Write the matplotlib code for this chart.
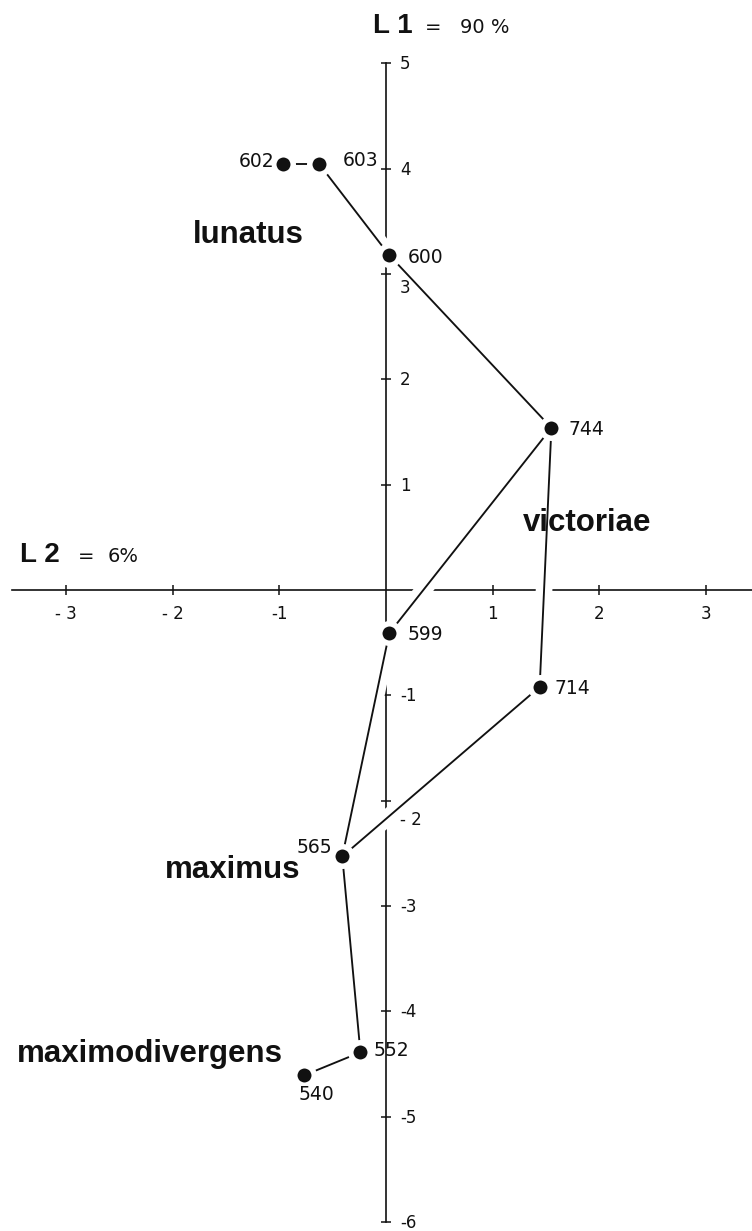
import matplotlib
matplotlib.use("Agg")
import matplotlib.pyplot as plt

# ---- data ----
specimens = ["602", "603", "600", "744", "599", "714", "565", "552", "540"]
l2_scores = [-0.97, -0.63, 0.03, 1.55, 0.03, 1.44, -0.41, -0.24, -0.77]
l1_scores = [4.05, 4.05, 3.18, 1.54, -0.41, -0.92, -2.53, -4.39, -4.61]
links = [("602", "603"), ("603", "600"), ("600", "744"), ("744", "599"),
         ("744", "714"), ("714", "565"), ("599", "565"), ("565", "552"),
         ("552", "540")]
groups = ["lunatus", "victoriae", "maximus", "maximodivergens"]
x_ticks = [-3, -2, -1, 1, 2, 3]
x_tick_labels = ["- 3", "- 2", "-1", "1", "2", "3"]
y_ticks = [5, 4, 3, 2, 1, -1, -2, -3, -4, -5, -6]
y_tick_labels = ["5", "4", "3", "2", "1", "-1", "- 2", "-3", "-4", "-5", "-6"]

# ---- styling / layout ----
PX = 0.72  # points per pixel at dpi 100
INK = "#111111"
NUM_FONT = "DejaVu Sans"
BOLD_FONT = "Liberation Sans"

# label offsets for specimen numbers (pixels: dx, dy up, ha)
num_offsets = {
    "602": (-8, 2, "right"), "603": (24, 3, "left"), "600": (19, -2, "left"),
    "744": (17, -2, "left"), "599": (18, -1, "left"), "714": (15, -2, "left"),
    "565": (-10, 9, "right"), "552": (13, 2, "left"), "540": (13, -19, "center"),
}
# group label placement (data coords of left baseline)
group_pos = {
    "lunatus": (-1.81, 3.30), "victoriae": (1.28, 0.56),
    "maximus": (-2.07, -2.735), "maximodivergens": (-3.46, -4.48),
}
y_label_dy = {3: -14, -2: -19}

fig = plt.figure(figsize=(7.52, 12.31), dpi=100)
fig.patch.set_facecolor("white")
ax = fig.add_axes([0, 0, 1, 1])
ax.set_facecolor("white")
ax.set_xlim(-3.618, 3.430)
ax.set_ylim(-6.087, 5.603)

for s in ["top", "right"]:
    ax.spines[s].set_visible(False)
ax.spines["left"].set_position(("data", 0))
ax.spines["bottom"].set_position(("data", 0))
ax.spines["left"].set_bounds(-6, 5)
ax.spines["bottom"].set_bounds(-3.505, 3.43)
for s in ["left", "bottom"]:
    ax.spines[s].set_linewidth(1.2)
    ax.spines[s].set_color(INK)

ax.set_xticks(x_ticks)
ax.set_xticklabels(x_tick_labels, fontfamily=NUM_FONT)
ax.tick_params(axis="x", direction="inout", length=7.5, width=1.1,
               color=INK, labelsize=12, labelcolor=INK, pad=7)
ax.set_yticks(y_ticks)
ax.tick_params(axis="y", direction="inout", length=7.5, width=1.1,
               color=INK, labelleft=False)

for v, lab in zip(y_ticks, y_tick_labels):
    ax.annotate(lab, xy=(0, v), xytext=(14 * PX, y_label_dy.get(v, -1) * PX),
                textcoords="offset points", ha="left", va="center",
                fontsize=12, family=NUM_FONT, color=INK, zorder=6)

# ---- links with white halo ----
pos = {s: (x, y) for s, x, y in zip(specimens, l2_scores, l1_scores)}
for a, b in links:
    xs = [pos[a][0], pos[b][0]]
    ys = [pos[a][1], pos[b][1]]
    ax.plot(xs, ys, color="white", lw=12, solid_capstyle="butt", zorder=3)
for a, b in links:
    xs = [pos[a][0], pos[b][0]]
    ys = [pos[a][1], pos[b][1]]
    ax.plot(xs, ys, color=INK, lw=1.35, zorder=4)

ax.plot(l2_scores, l1_scores, ls="none", marker="o", ms=19.5 * PX,
        mfc=INK, mec="white", mew=5.5 * PX, zorder=5)

for s, x, y in zip(specimens, l2_scores, l1_scores):
    dx, dy, ha = num_offsets[s]
    ax.annotate(s, xy=(x, y), xytext=(dx * PX, dy * PX), textcoords="offset points",
                ha=ha, va="center", fontsize=13.5, family=NUM_FONT, color=INK,
                zorder=6)

for g in groups:
    gx, gy = group_pos[g]
    ax.text(gx, gy, g, ha="left", va="baseline", fontsize=22.5,
            family=BOLD_FONT, fontweight="bold", color=INK, zorder=6)

# axis titles
ax.text(-0.12, 5.29, "L 1", ha="left", va="baseline", fontsize=20,
        family=BOLD_FONT, fontweight="bold", color=INK)
ax.text(0.44, 5.29, "=", ha="center", va="baseline", fontsize=14,
        family=NUM_FONT, color=INK)
ax.text(0.69, 5.29, "90 %", ha="left", va="baseline", fontsize=14,
        family=NUM_FONT, color=INK)
ax.text(-3.43, 0.266, "L 2", ha="left", va="baseline", fontsize=20,
        family=BOLD_FONT, fontweight="bold", color=INK)
ax.text(-2.81, 0.266, "=", ha="center", va="baseline", fontsize=14,
        family=NUM_FONT, color=INK)
ax.text(-2.61, 0.266, "6%", ha="left", va="baseline", fontsize=14,
        family=NUM_FONT, color=INK)

fig.savefig("out.png", dpi=100, facecolor="white")
